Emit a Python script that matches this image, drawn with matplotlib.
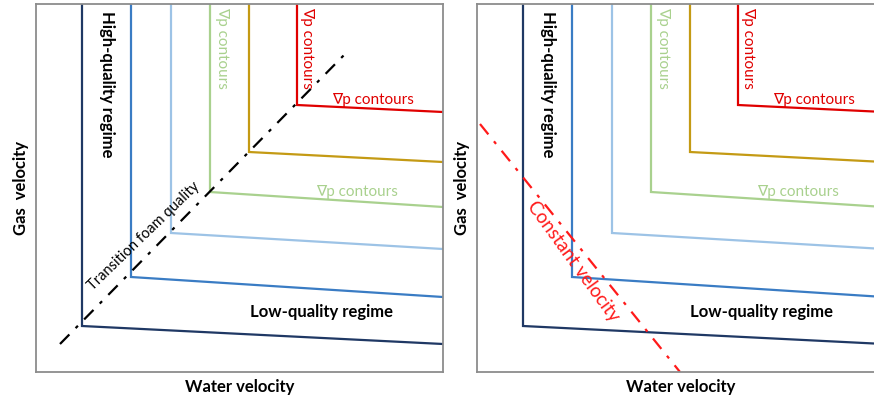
import matplotlib.pyplot as plt
import numpy as np

plt.rcParams['font.family'] = ['Lato', 'DejaVu Sans']

# pressure-gradient contours: corner (water, gas) and gas value at the right edge
contour_colors = ['#1f3864', '#3a7cc4', '#9dc3e6', '#a9d18e', '#c49a14', '#e00000']
corner_x = [46, 95, 135, 174, 213, 261]
corner_y = [46, 95, 139, 180, 220, 267]
end_y = [28, 75, 123, 165, 210, 260]

x_max = 407
y_max = 368

# transition foam quality line (left) and constant total velocity line (right)
trans_x = [24, 312]
trans_y = [28, 321]
const_x = [3, 203]
const_y = [248, 0]

W, H = 874, 398
fig = plt.figure(figsize=(W/100, H/100), dpi=100)
ax1 = fig.add_axes([36/W, (H-372)/H, x_max/W, y_max/H])
ax2 = fig.add_axes([477/W, (H-372)/H, x_max/W, y_max/H])

for ax in [ax1, ax2]:
	for i in range(len(contour_colors)):
		ax.plot([corner_x[i], corner_x[i], x_max], [y_max, corner_y[i], end_y[i]],
			color=contour_colors[i], lw=1.6, solid_joinstyle='miter')
	ax.set_xlim(0, x_max)
	ax.set_ylim(0, y_max)
	ax.set_xticks([])
	ax.set_yticks([])
	for s in ax.spines.values():
		s.set_color('#8c8c8c')
		s.set_linewidth(1.3)
	ax.set_xlabel('Water velocity', fontsize=12, fontweight='bold', labelpad=5)
	ax.set_ylabel('Gas  velocity', fontsize=12, fontweight='bold', labelpad=5)
	ax.text(71, 288, 'High-quality regime', rotation=-90, fontsize=12, fontweight='bold',
		ha='center', va='center')
	ax.text(285, 60, 'Low-quality regime', fontsize=12, fontweight='bold',
		ha='center', va='center')
	ax.text(186, 324, '∇p contours', rotation=-90, fontsize=11, color='#a9d18e',
		ha='center', va='center')
	ax.text(271, 324, '∇p contours', rotation=-90, fontsize=11, color='#e00000',
		ha='center', va='center')
	ax.text(337, 272, '∇p contours', fontsize=11, color='#e00000', ha='center', va='center')
	ax.text(321, 180, '∇p contours', fontsize=11, color='#a9d18e', ha='center', va='center')

ax1.plot(trans_x, trans_y, color='black', lw=1.6, linestyle=(0, (6, 4, 1.5, 4)))
ax1.text(108, 136, 'Transition foam quality', rotation=44, fontsize=10.5,
	ha='center', va='center', rotation_mode='anchor')

ax2.plot(const_x, const_y, color='#ff1a1a', lw=1.6, linestyle=(0, (6, 4, 1.5, 4)))
ax2.text(96, 111, 'Constant velocity', rotation=-54, fontsize=13.5, color='#ff1a1a',
	ha='center', va='center', rotation_mode='anchor')

plt.savefig('out.png', dpi=100)
